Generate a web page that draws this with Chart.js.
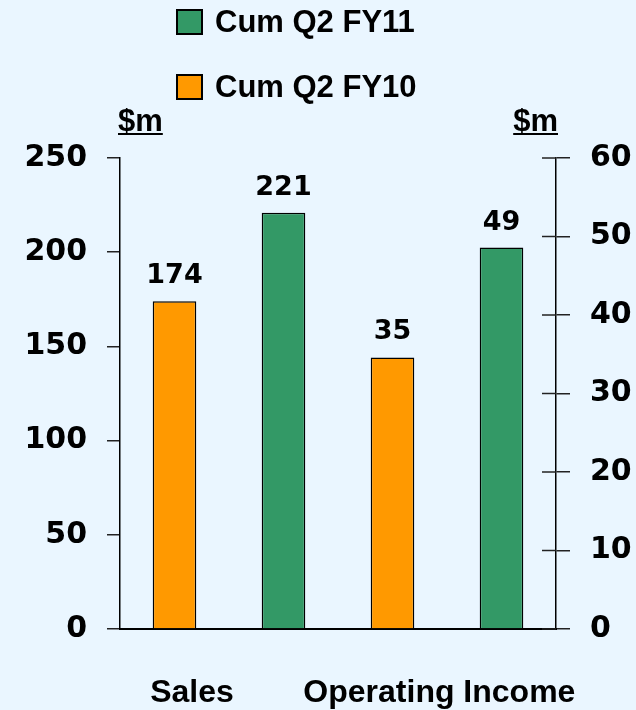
<!DOCTYPE html>
<html>
<head>
<meta charset="utf-8">
<script src="https://cdn.jsdelivr.net/npm/chart.js@4.4.1/dist/chart.umd.min.js"></script>
<style>
  html, body { margin: 0; padding: 0; background: #eaf6ff; }
  #kehys { width: 636px; height: 710px; }
</style>
</head>
<body>
<div id="kehys"><canvas id="kaavio"></canvas></div>
<script>
// Kaavion data
const categories = ['Sales', 'Operating Income'];
const seriesNames = ['Cum Q2 FY10', 'Cum Q2 FY11'];
const fy10 = [174, 34.6];
const fy11 = [221, 48.6];
const leftTicks = [0, 50, 100, 150, 200, 250];
const rightTicks = [0, 10, 20, 30, 40, 50, 60];
const unitLabel = '$m';

// Värit ja fontit
const oranssi = '#ff9900';
const vihrea = '#339966';
const sarjaVarit = [oranssi, vihrea];
const numFont = '"DejaVu Sans", sans-serif';
const tekstiFont = '"Liberation Sans", Arial, sans-serif';

// Jokaiselle kategorialle kaksi paikkaa x-akselilla (FY10, FY11)
const paikat = [];
categories.forEach(c => seriesNames.forEach(s => paikat.push(c + ' ' + s)));

const datasets = categories.map((c, i) => {
  const data = paikat.map(() => null);
  data[i * 2] = fy10[i];
  data[i * 2 + 1] = fy11[i];
  return {
    label: c,
    data: data,
    yAxisID: i === 0 ? 'y' : 'y1',
    backgroundColor: paikat.map((p, j) => sarjaVarit[j % 2]),
    borderColor: '#000',
    borderWidth: 1.5,
    barPercentage: 0.4,
    categoryPercentage: 1,
    grouped: false
  };
});

// Kategorioiden nimien siirto paikkojen välissä (osuus paikkavälistä)
const nimiSiirto = [0.16, 0.43];

const piirrosPlugin = {
  id: 'piirros',
  afterDraw(chart) {
    const ctx = chart.ctx;
    const ca = chart.chartArea;
    const x = chart.scales.x;
    ctx.save();

    // Selite allekkain
    [1, 0].forEach((s, r) => {
      const y = 10 + r * 65;
      ctx.fillStyle = sarjaVarit[s];
      ctx.fillRect(177, y, 25, 24);
      ctx.strokeStyle = '#000';
      ctx.lineWidth = 2;
      ctx.strokeRect(177, y, 25, 24);
      ctx.fillStyle = '#000';
      ctx.font = 'bold 31px ' + tekstiFont;
      ctx.textAlign = 'left';
      ctx.textBaseline = 'middle';
      ctx.fillText(seriesNames[s], 215, y + 13);
    });

    // Yksiköt akselien yläpuolelle, alleviivattuna
    ctx.font = 'bold 31px ' + tekstiFont;
    ctx.textBaseline = 'alphabetic';
    const leveys = ctx.measureText(unitLabel).width;
    [ca.left - 2, ca.right + 2 - leveys].forEach(lx => {
      ctx.fillText(unitLabel, lx, 131);
      ctx.fillRect(lx, 133, leveys, 2);
    });

    // Arvot pylväiden päälle
    ctx.font = 'bold 27px ' + numFont;
    ctx.textAlign = 'center';
    ctx.textBaseline = 'middle';
    chart.data.datasets.forEach((ds, di) => {
      chart.getDatasetMeta(di).data.forEach((el, j) => {
        if (ds.data[j] == null) return;
        ctx.fillText(Math.round(ds.data[j]), el.x, el.y - 25);
      });
    });

    // Kategorioiden nimet alas
    const vali = x.getPixelForValue(1) - x.getPixelForValue(0);
    ctx.font = 'bold 32px ' + tekstiFont;
    categories.forEach((c, i) => {
      ctx.fillText(c, x.getPixelForValue(i * 2) + vali * nimiSiirto[i], 693);
    });

    // Oikean akselin sisäänpäin osoittavat merkit
    const y1 = chart.scales.y1;
    ctx.strokeStyle = '#222';
    ctx.lineWidth = 1.5;
    rightTicks.forEach(v => {
      const py = y1.getPixelForValue(v);
      ctx.beginPath();
      ctx.moveTo(ca.right - 14, py);
      ctx.lineTo(ca.right, py);
      ctx.stroke();
    });
    ctx.restore();
  }
};

new Chart(document.getElementById('kaavio'), {
  type: 'bar',
  data: { labels: paikat, datasets: datasets },
  options: {
    responsive: true,
    maintainAspectRatio: false,
    animation: false,
    layout: { padding: { top: 158, bottom: 73, left: 0, right: 0 } },
    plugins: { legend: { display: false }, tooltip: { enabled: false } },
    scales: {
      x: {
        grid: { display: false },
        border: { display: true, color: '#000', width: 2 },
        ticks: { display: false }
      },
      y: {
        position: 'left',
        min: 0, max: 250,
        afterBuildTicks: s => { s.ticks = leftTicks.map(v => ({ value: v })); },
        afterFit: s => { s.width = 120; },
        grid: { drawOnChartArea: false, drawTicks: true, tickLength: 13, color: '#222', lineWidth: 1.5 },
        border: { display: true, color: '#000', width: 1.5 },
        ticks: { color: '#000', padding: 20, font: { family: numFont, size: 30, weight: 'bold' } }
      },
      y1: {
        position: 'right',
        min: 0, max: 60,
        afterBuildTicks: s => { s.ticks = rightTicks.map(v => ({ value: v })); },
        afterFit: s => { s.width = 80; },
        grid: { drawOnChartArea: false, drawTicks: true, tickLength: 14, color: '#222', lineWidth: 1.5 },
        border: { display: true, color: '#000', width: 1.5 },
        ticks: { color: '#000', padding: 20, font: { family: numFont, size: 30, weight: 'bold' } }
      }
    }
  },
  plugins: [piirrosPlugin]
});
</script>
</body>
</html>
